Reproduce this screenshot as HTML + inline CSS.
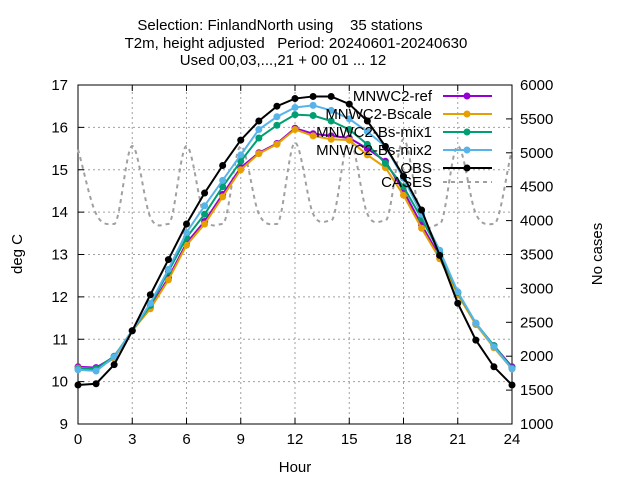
<!DOCTYPE html>
<html><head><meta charset="utf-8"><style>
body{margin:0;background:#fff;}
svg text{font-family:"Liberation Sans",sans-serif;font-size:15px;fill:#000;}
</style></head><body>
<svg width="640" height="480" id="c">
<g id="grid"></g>
<g id="axes"></g>
<g id="series"></g>
<g>
<text x="280" y="30" text-anchor="middle" xml:space="preserve">Selection: FinlandNorth using    35 stations</text>
<text x="296" y="48" text-anchor="middle" xml:space="preserve">T2m, height adjusted   Period: 20240601-20240630</text>
<text x="283" y="65" text-anchor="middle">Used 00,03,...,21 + 00 01 ... 12</text>
</g>
<text x="295" y="472" text-anchor="middle">Hour</text>
<text transform="translate(22,254) rotate(-90)" text-anchor="middle">deg C</text>
<text transform="translate(602,254) rotate(-90)" text-anchor="middle">No cases</text>
<g id="legend"></g>
</svg>
<script>
const hours=[0,1,2,3,4,5,6,7,8,9,10,11,12,13,14,15,16,17,18,19,20,21,22,23,24];
const refVals=[10.35,10.33,10.58,11.2,11.75,12.45,13.27,13.78,14.42,15.05,15.4,15.62,15.98,15.85,15.8,15.75,15.5,15.2,14.5,13.7,12.95,12.1,11.35,10.85,10.35];
const bscaleVals=[10.32,10.3,10.55,11.2,11.72,12.4,13.22,13.72,14.36,15.0,15.38,15.6,15.95,15.8,15.72,15.7,15.35,15.05,14.4,13.62,12.9,12.05,11.35,10.8,10.3];
const mix1Vals=[10.3,10.3,10.6,11.2,11.8,12.6,13.4,13.95,14.6,15.2,15.75,16.05,16.3,16.28,16.15,15.95,15.6,15.15,14.6,13.85,13.05,12.1,11.38,10.85,10.32];
const mix2Vals=[10.28,10.25,10.58,11.2,11.85,12.65,13.52,14.15,14.75,15.35,15.95,16.25,16.47,16.52,16.4,16.2,15.9,15.55,14.8,13.95,13.1,12.12,11.38,10.82,10.3];
const obsVals=[9.92,9.95,10.4,11.2,12.05,12.88,13.72,14.45,15.1,15.7,16.15,16.5,16.68,16.73,16.73,16.55,16.15,15.55,14.85,14.05,12.98,11.85,10.98,10.35,9.92];
const casesVals=[5050,4100,3950,5100,4050,3950,5100,4050,3950,5100,4100,3950,5150,4100,4000,5200,4100,4000,5200,4000,3950,5100,4100,3950,5050];
const xTicks=[0,3,6,9,12,15,18,21,24];
const yTicks=[9,10,11,12,13,14,15,16,17];
const y2Ticks=[1000,1500,2000,2500,3000,3500,4000,4500,5000,5500,6000];
const X0=78,X1=512,Y0=424,Y1=85;
const xs=h=>X0+(h-0)/24*(X1-X0);
const ys=v=>Y0-(v-9)/8*(Y0-Y1);
const y2s=c=>Y0-(c-1000)/5000*(Y0-Y1);
const NS="http://www.w3.org/2000/svg";
function mk(p,t,a){const e=document.createElementNS(NS,t);for(const k in a)e.setAttribute(k,a[k]);p.appendChild(e);return e;}
const grid=document.getElementById('grid'),axes=document.getElementById('axes'),ser=document.getElementById('series'),leg=document.getElementById('legend');
xTicks.forEach(t=>{
 const l=mk(grid,'line',{x1:xs(t),x2:xs(t),y1:Y0,y2:Y1,stroke:'#a0a0a0','stroke-dasharray':'2,3','stroke-width':1});
 
 mk(axes,'line',{x1:xs(t),x2:xs(t),y1:Y0,y2:Y0-6,stroke:'#000'});
 mk(axes,'line',{x1:xs(t),x2:xs(t),y1:Y1,y2:Y1+6,stroke:'#000'});
 const tx=mk(axes,'text',{x:xs(t),y:Y0+20,'text-anchor':'middle'});tx.textContent=t;
 
});
yTicks.forEach(t=>{
 const l=mk(grid,'line',{x1:X0,x2:X1,y1:ys(t),y2:ys(t),stroke:'#a0a0a0','stroke-dasharray':'2,3','stroke-width':1});
 
 mk(axes,'line',{x1:X0,x2:X0+6,y1:ys(t),y2:ys(t),stroke:'#000'});
 const tx=mk(axes,'text',{x:X0-10,y:ys(t)+5,'text-anchor':'end'});tx.textContent=t;
 
});
y2Ticks.forEach(t=>{
 mk(axes,'line',{x1:X1,x2:X1-6,y1:y2s(t),y2:y2s(t),stroke:'#000'});
 const tx=mk(axes,'text',{x:X1+8,y:y2s(t)+5,'text-anchor':'start'});tx.textContent=t;
 
});
mk(axes,'rect',{x:X0,y:Y1,width:X1-X0,height:Y0-Y1,fill:'none',stroke:'#000','stroke-width':1});
// cases: monotone cubic through points (no overshoot)
const P=hours.map((h,i)=>[xs(h),y2s(casesVals[i])]);
const n=P.length,dk=[],m=[];
for(let i=0;i<n-1;i++)dk.push((P[i+1][1]-P[i][1])/(P[i+1][0]-P[i][0]));
for(let i=0;i<n;i++){
 if(i===0)m.push(dk[0]);else if(i===n-1)m.push(dk[n-2]);
 else m.push(dk[i-1]*dk[i]<=0?0:(dk[i-1]+dk[i])/2);
}
let d='M'+P[0][0]+','+P[0][1];
for(let i=0;i<n-1;i++){
 const h=(P[i+1][0]-P[i][0])/3;
 d+=' C'+(P[i][0]+h)+','+(P[i][1]+m[i]*h)+' '+(P[i+1][0]-h)+','+(P[i+1][1]-m[i+1]*h)+' '+P[i+1][0]+','+P[i+1][1];
}
const cp=mk(ser,'path',{d:d,fill:'none',stroke:'#a0a0a0','stroke-width':2,'stroke-dasharray':'4,4'});

const S=[['MNWC2-ref',refVals,'#9400d3'],['MNWC2-Bscale',bscaleVals,'#e69f00'],['MNWC2-Bs-mix1',mix1Vals,'#009e73'],['MNWC2-Bs-mix2',mix2Vals,'#56b4e9'],['OBS',obsVals,'#000000']];
S.forEach((s,k)=>{
 const g=mk(ser,'g',{});
 
 mk(g,'polyline',{points:hours.map((h,i)=>xs(h)+','+ys(s[1][i])).join(' '),fill:'none',stroke:s[2],'stroke-width':2});
 hours.forEach((h,i)=>{const c=mk(g,'circle',{cx:xs(h),cy:ys(s[1][i]),r:3.5,fill:s[2]});
  });
 const ly=96+k*18;
 const t=mk(leg,'text',{x:432,y:ly+5,'text-anchor':'end'});t.textContent=s[0];
 
 mk(leg,'line',{x1:443,x2:492,y1:ly,y2:ly,stroke:s[2],'stroke-width':2});
 mk(leg,'circle',{cx:467,cy:ly,r:3.5,fill:s[2]});
});
const ct=mk(leg,'text',{x:432,y:187,'text-anchor':'end'});ct.textContent='CASES';

mk(leg,'line',{x1:443,x2:492,y1:182,y2:182,stroke:'#a0a0a0','stroke-width':2,'stroke-dasharray':'4,4'});
</script>
</body></html>
